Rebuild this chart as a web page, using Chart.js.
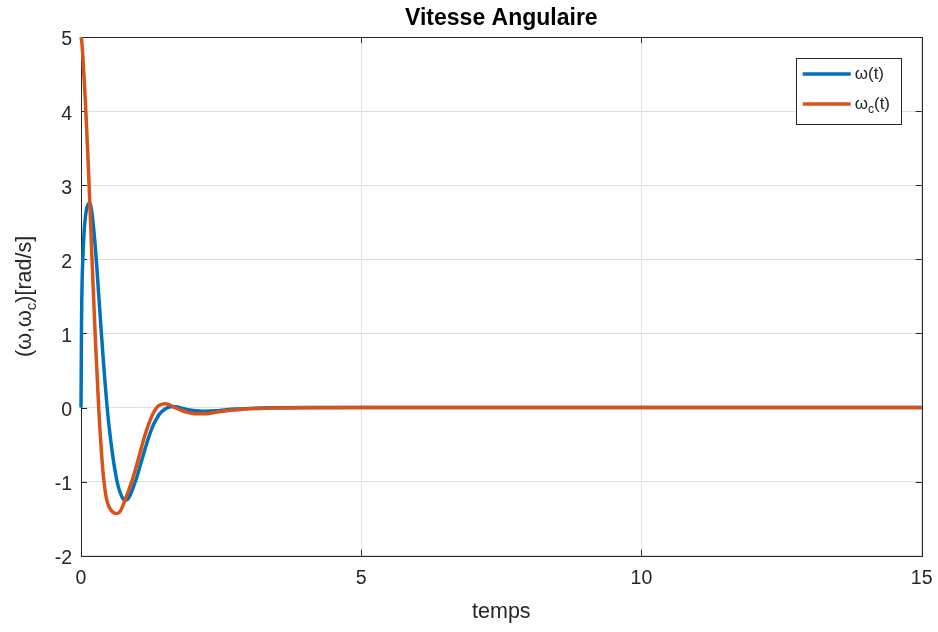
<!DOCTYPE html>
<html>
<head>
<meta charset="utf-8">
<title>Vitesse Angulaire</title>
<script src="https://cdn.jsdelivr.net/npm/chart.js@4.4.1/dist/chart.umd.min.js"></script>
<style>
  html, body { margin: 0; padding: 0; background: #fff; }
  #wrap { width: 938px; height: 632px; }
</style>
</head>
<body>
<div id="wrap"><canvas id="speedChart"></canvas></div>
<script>
// time samples (s)
const time = [0, 0.01, 0.02, 0.03, 0.04, 0.06, 0.08, 0.1, 0.12, 0.14,
  0.16, 0.18, 0.2, 0.22, 0.24, 0.26, 0.28, 0.3, 0.32, 0.34,
  0.36, 0.38, 0.4, 0.43, 0.46, 0.5, 0.55, 0.6, 0.65, 0.7,
  0.75, 0.8, 0.85, 0.9, 0.95, 1.0, 1.05, 1.1, 1.15, 1.2,
  1.25, 1.3, 1.35, 1.4, 1.5, 1.6, 1.7, 1.8, 1.9, 2.0,
  2.2, 2.4, 2.6, 2.8, 3.0, 3.5, 4, 5, 6, 8, 10, 12, 15];

// omega(t)
const omega = [0, 1.2, 1.7, 1.95, 2.14, 2.42, 2.58, 2.68, 2.73, 2.755,
  2.76, 2.7, 2.6, 2.46, 2.3, 2.12, 1.92, 1.7, 1.48, 1.26,
  1.04, 0.83, 0.62, 0.33, 0.06, -0.25, -0.56, -0.82, -1.02, -1.15,
  -1.23, -1.25, -1.22, -1.14, -1.04, -0.93, -0.8, -0.67, -0.54, -0.42,
  -0.31, -0.22, -0.15, -0.09, -0.02, 0.01, 0.01, -0.01, -0.03, -0.04,
  -0.05, -0.045, -0.03, -0.02, -0.012, -0.004, -0.001, 0, 0, 0, 0, 0, 0];

// omega_c(t)
const omegaC = [5.0, 4.96, 4.88, 4.77, 4.65, 4.38, 4.1, 3.78, 3.44, 3.08,
  2.7, 2.32, 1.94, 1.57, 1.21, 0.87, 0.55, 0.24, -0.06, -0.32,
  -0.55, -0.76, -0.93, -1.12, -1.25, -1.34, -1.4, -1.425, -1.43, -1.4,
  -1.32, -1.22, -1.12, -1.01, -0.89, -0.76, -0.62, -0.48, -0.35, -0.24,
  -0.14, -0.06, 0.0, 0.03, 0.05, 0.03, -0.01, -0.04, -0.065, -0.08,
  -0.085, -0.065, -0.045, -0.03, -0.018, -0.006, -0.002, 0, 0, 0, 0, 0, 0];

const xTickValues = [0, 5, 10, 15];
const yTickValues = [-2, -1, 0, 1, 2, 3, 4, 5];

const axisColor = "#262626";
const fontFamily = "'Liberation Sans', Arial, Helvetica, sans-serif";

// draws the matlab style box, inner ticks, y label with subscript and legend
const matlabAxes = {
  id: "matlabAxes",
  beforeDatasetsDraw(chart) {
    const { ctx, chartArea: a, scales } = chart;
    const tl = 6;
    ctx.save();
    ctx.strokeStyle = axisColor;
    ctx.lineWidth = 1;
    ctx.beginPath();
    xTickValues.forEach(v => {
      const x = Math.round(scales.x.getPixelForValue(v)) + 0.5;
      ctx.moveTo(x, a.bottom); ctx.lineTo(x, a.bottom - tl);
      ctx.moveTo(x, a.top); ctx.lineTo(x, a.top + tl);
    });
    yTickValues.forEach(v => {
      const y = Math.round(scales.y.getPixelForValue(v)) + 0.5;
      ctx.moveTo(a.left, y); ctx.lineTo(a.left + tl, y);
      ctx.moveTo(a.right, y); ctx.lineTo(a.right - tl, y);
    });
    ctx.stroke();
    ctx.strokeRect(Math.round(a.left) + 0.5, Math.round(a.top) + 0.5,
      Math.round(a.right - a.left), Math.round(a.bottom - a.top));
    ctx.restore();
  },
  afterDatasetsDraw(chart) {
    const { ctx, chartArea: a } = chart;
    ctx.save();

    // y axis label: (ω,ω_c)[rad/s]
    const main = "21.5px " + fontFamily;
    const sub = "15px " + fontFamily;
    ctx.font = main;
    const w1 = ctx.measureText("(ω,ω").width;
    const w3 = ctx.measureText(")[rad/s]").width;
    ctx.font = sub;
    const w2 = ctx.measureText("c").width;
    const total = w1 + w2 + w3;
    ctx.translate(31, (a.top + a.bottom) / 2);
    ctx.rotate(-Math.PI / 2);
    ctx.fillStyle = axisColor;
    ctx.textBaseline = "alphabetic";
    ctx.textAlign = "left";
    let x = -total / 2;
    ctx.font = main;
    ctx.fillText("(ω,ω", x, 0);
    x += w1;
    ctx.font = sub;
    ctx.fillText("c", x, 5);
    x += w2;
    ctx.font = main;
    ctx.fillText(")[rad/s]", x, 0);
    ctx.setTransform(1, 0, 0, 1, 0, 0);

    // legend box
    const bx = a.right - 126, by = a.top + 21, bw = 105, bh = 66;
    ctx.fillStyle = "#fff";
    ctx.fillRect(bx, by, bw, bh);
    ctx.strokeStyle = axisColor;
    ctx.lineWidth = 1;
    ctx.strokeRect(Math.round(bx) + 0.5, Math.round(by) + 0.5, bw, bh);
    chart.data.datasets.forEach((ds, i) => {
      const ly = by + 16 + i * 30;
      ctx.strokeStyle = ds.borderColor;
      ctx.lineWidth = 3.5;
      ctx.beginPath();
      ctx.moveTo(bx + 7, ly);
      ctx.lineTo(bx + 55, ly);
      ctx.stroke();
      ctx.fillStyle = axisColor;
      ctx.textBaseline = "middle";
      ctx.font = "17px " + fontFamily;
      let tx = bx + 59;
      ctx.fillText("ω", tx, ly);
      tx += ctx.measureText("ω").width;
      if (ds.subscript) {
        ctx.font = "12px " + fontFamily;
        ctx.fillText(ds.subscript, tx, ly + 6);
        tx += ctx.measureText(ds.subscript).width;
        ctx.font = "17px " + fontFamily;
      }
      ctx.fillText("(t)", tx, ly);
    });
    ctx.restore();
  }
};

const ctx = document.getElementById("speedChart").getContext("2d");
new Chart(ctx, {
  type: "line",
  data: {
    datasets: [{
      label: "ω(t)",
      data: time.map((t, i) => ({ x: t, y: omega[i] })),
      borderColor: "#0072BD",
      borderWidth: 3.5,
      pointRadius: 0,
      cubicInterpolationMode: "monotone",
      clip: 5,
      order: 1
    }, {
      label: "ωc(t)",
      subscript: "c",
      data: time.map((t, i) => ({ x: t, y: omegaC[i] })),
      borderColor: "#D95319",
      borderWidth: 3.5,
      pointRadius: 0,
      cubicInterpolationMode: "monotone",
      clip: 5,
      order: 0
    }]
  },
  options: {
    responsive: true,
    maintainAspectRatio: false,
    animation: false,
    layout: { padding: { left: 0, right: 16.3, top: 0, bottom: 0 } },
    plugins: {
      legend: { display: false },
      tooltip: { enabled: false },
      title: {
        display: true,
        text: "Vitesse Angulaire",
        fullSize: false,
        color: "#000",
        font: { family: fontFamily, size: 23, weight: "bold" },
        padding: { top: 5, bottom: 4.5 }
      }
    },
    scales: {
      x: {
        type: "linear",
        min: 0,
        max: 15,
        afterBuildTicks: s => { s.ticks = xTickValues.map(v => ({ value: v })); },
        afterFit: s => { s.height = 76.3; s.paddingLeft = 0; s.paddingRight = 0; },
        grid: { color: "#dfdfdf", drawTicks: false },
        border: { display: false },
        ticks: {
          color: axisColor,
          padding: 11,
          maxRotation: 0,
          font: { family: fontFamily, size: 19.5 }
        },
        title: {
          display: true,
          text: "temps",
          color: axisColor,
          font: { family: fontFamily, size: 21.5 },
          padding: { top: 4, bottom: 7 }
        }
      },
      y: {
        min: -2,
        max: 5,
        afterBuildTicks: s => { s.ticks = yTickValues.map(v => ({ value: v })); },
        afterFit: s => { s.width = 81; s.paddingTop = 0; s.paddingBottom = 0; },
        grid: { color: "#dfdfdf", drawTicks: false },
        border: { display: false },
        ticks: {
          color: axisColor,
          padding: 9,
          labelOffset: 3,
          font: { family: fontFamily, size: 19.5 }
        }
      }
    }
  },
  plugins: [matlabAxes]
});
</script>
</body>
</html>
